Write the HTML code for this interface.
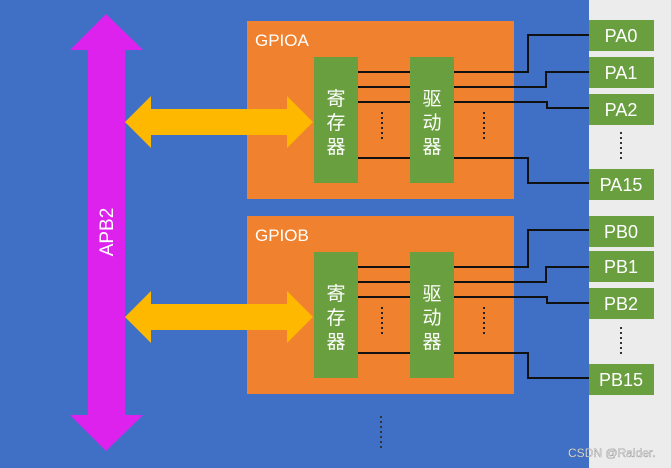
<!DOCTYPE html>
<html><head><meta charset="utf-8"><style>
body{margin:0;width:671px;height:468px;overflow:hidden;background:#ececec;}
svg{display:block}
text{font-family:"Liberation Sans","Noto Sans CJK SC",sans-serif;fill:#fff}
</style></head><body>
<svg width="671" height="468" viewBox="0 0 671 468">
<rect x="0" y="0" width="671" height="468" fill="#ececec"/>
<rect x="0" y="0" width="589" height="468" fill="#3f70c6"/>
<polygon points="106,14 143,50 125,50 125,415 143,415 106,451 70,415 88,415 88,50 70,50" fill="#dd22ee"/>
<text x="0" y="0" font-size="19" text-anchor="middle" transform="translate(113,232) rotate(-90)">APB2</text>
<rect x="247" y="21" width="267" height="178" fill="#f0812e"/>
<text x="255" y="46" font-size="17">GPIOA</text>
<rect x="247" y="216" width="267" height="178" fill="#f0812e"/>
<text x="255" y="241" font-size="17">GPIOB</text>
<g id="blkA">
<polygon points="125,122 151,96 151,109 287,109 287,96 313,122 287,148 287,135 151,135 151,148" fill="#ffb800"/>
<rect x="314" y="57" width="44" height="126" fill="#6a9f40"/>
<rect x="410" y="57" width="44" height="126" fill="#6a9f40"/>
<text x="336" y="105" font-size="19" text-anchor="middle">寄</text>
<text x="336" y="129" font-size="19" text-anchor="middle">存</text>
<text x="336" y="153" font-size="19" text-anchor="middle">器</text>
<text x="432" y="105" font-size="19" text-anchor="middle">驱</text>
<text x="432" y="129" font-size="19" text-anchor="middle">动</text>
<text x="432" y="153" font-size="19" text-anchor="middle">器</text>
<g stroke="#111" stroke-width="2" fill="none">
<line x1="358" y1="72" x2="410" y2="72"/><line x1="358" y1="87" x2="410" y2="87"/>
<line x1="358" y1="102" x2="410" y2="102"/><line x1="358" y1="158" x2="410" y2="158"/>
<polyline points="454,72 528,72 528,35 589,35"/>
<polyline points="454,87 546,87 546,72 589,72"/>
<polyline points="454,102 547,102 547,108 589,108"/>
<polyline points="454,158 528,158 528,183 589,183"/>
</g>
<g stroke="#222" stroke-width="2" stroke-dasharray="2,3">
<line x1="382" y1="112" x2="382" y2="142"/><line x1="484" y1="112" x2="484" y2="142"/>
</g>
</g>
<use href="#blkA" transform="translate(0,195)"/>
<g fill="#6a9f40">
<rect x="589" y="20" width="65" height="31"/><rect x="589" y="57" width="65" height="31"/>
<rect x="589" y="94" width="65" height="31"/><rect x="589" y="169" width="65" height="31"/>
<rect x="589" y="216" width="65" height="31"/><rect x="589" y="251" width="65" height="31"/>
<rect x="589" y="288" width="65" height="31"/><rect x="589" y="364" width="65" height="31"/>
</g>
<g font-size="18" text-anchor="middle">
<text x="621" y="42">PA0</text><text x="621" y="79">PA1</text><text x="621" y="116">PA2</text><text x="621" y="191">PA15</text>
<text x="621" y="238">PB0</text><text x="621" y="273">PB1</text><text x="621" y="310">PB2</text><text x="621" y="386">PB15</text>
</g>
<g stroke="#333" stroke-width="2" stroke-dasharray="2,3">
<line x1="621" y1="132" x2="621" y2="160"/><line x1="621" y1="327" x2="621" y2="356"/>
<line x1="381" y1="416" x2="381" y2="450"/>
</g>
<text x="568" y="457" font-size="12" style="fill:#f0f0f0;stroke:#777;stroke-width:0.3">CSDN @Raider.</text>
</svg>
</body></html>
